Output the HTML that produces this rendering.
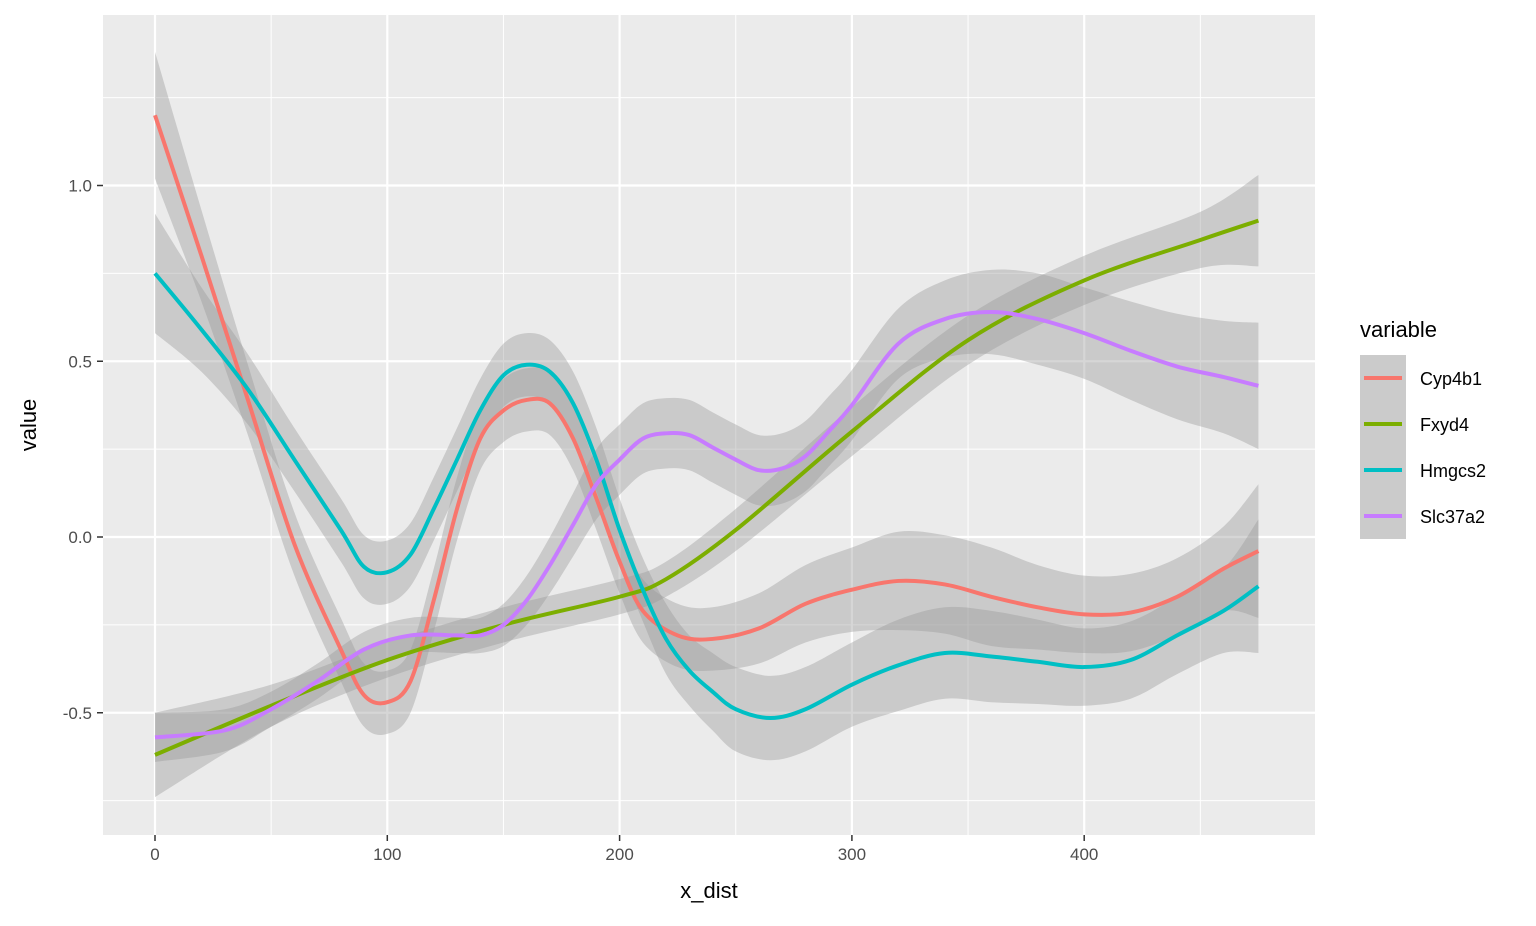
<!DOCTYPE html>
<html><head><meta charset="utf-8"><style>
body{margin:0;background:#fff;}
svg{font-family:"Liberation Sans",sans-serif;}
</style></head><body>
<svg id="c" width="1536" height="921"></svg>
<script>
const seriesNames=["Cyp4b1","Fxyd4","Hmgcs2","Slc37a2"];
const seriesColors=["#F8766D","#7CAE00","#00BFC4","#C77CFF"];
const cypX=[0,20,40,60,80,90,100,110,120,130,140,150,160,170,180,190,200,210,225,240,260,280,300,320,340,360,380,400,420,440,460,475];
const cypY=[1.20,0.80,0.39,-0.02,-0.32,-0.45,-0.47,-0.41,-0.18,0.08,0.28,0.36,0.39,0.38,0.28,0.11,-0.07,-0.21,-0.28,-0.29,-0.26,-0.19,-0.15,-0.125,-0.135,-0.17,-0.20,-0.22,-0.215,-0.17,-0.09,-0.04];
const cypSe=[0.18,0.13,0.1,0.09,0.09,0.09,0.09,0.09,0.09,0.09,0.09,0.09,0.09,0.09,0.09,0.09,0.09,0.09,0.09,0.09,0.1,0.11,0.12,0.14,0.14,0.14,0.12,0.11,0.11,0.11,0.12,0.19];
const fxX=[0,50,100,150,200,220,250,300,350,400,450,475];
const fxY=[-0.62,-0.48,-0.35,-0.25,-0.17,-0.12,0.02,0.30,0.56,0.73,0.845,0.90];
const fxSe=[0.12,0.06,0.05,0.05,0.05,0.05,0.06,0.07,0.07,0.07,0.08,0.13];
const hmX=[0,20,40,60,80,90,100,110,120,130,140,150,160,170,180,190,200,210,220,230,240,250,265,280,300,320,340,360,380,400,420,440,460,475];
const hmY=[0.75,0.59,0.42,0.22,0.02,-0.085,-0.1,-0.05,0.08,0.22,0.36,0.46,0.49,0.47,0.38,0.22,0.02,-0.15,-0.29,-0.38,-0.44,-0.49,-0.515,-0.49,-0.42,-0.365,-0.33,-0.34,-0.355,-0.37,-0.35,-0.28,-0.21,-0.14];
const hmSe=[0.17,0.12,0.1,0.09,0.09,0.09,0.09,0.09,0.09,0.09,0.09,0.09,0.09,0.09,0.09,0.09,0.09,0.09,0.1,0.1,0.11,0.12,0.12,0.12,0.12,0.13,0.13,0.13,0.12,0.11,0.11,0.11,0.12,0.19];
const slX=[0,30,50,70,90,110,130,140,150,160,170,180,190,200,210,220,230,240,250,260,270,280,290,300,320,340,360,380,400,420,440,460,475];
const slY=[-0.57,-0.55,-0.49,-0.41,-0.32,-0.28,-0.28,-0.28,-0.25,-0.18,-0.08,0.035,0.15,0.22,0.28,0.295,0.29,0.255,0.22,0.19,0.195,0.23,0.30,0.375,0.55,0.62,0.64,0.62,0.58,0.53,0.485,0.455,0.43];
const slSe=[0.07,0.06,0.05,0.05,0.05,0.05,0.05,0.05,0.06,0.07,0.08,0.09,0.1,0.1,0.1,0.1,0.1,0.1,0.1,0.1,0.1,0.1,0.1,0.1,0.1,0.11,0.12,0.13,0.13,0.14,0.15,0.16,0.18];
const xTicks=[0,100,200,300,400];
const yTicks=[-0.5,0,0.5,1.0];
const yTickLabels=["-0.5","0.0","0.5","1.0"];
const xMinor=[50,150,250,350,450];
const yMinor=[-0.75,-0.25,0.25,0.75,1.25];

const NS="http://www.w3.org/2000/svg";
const svg=document.getElementById('c');
const P={l:103,r:1315,t:15,b:835};
const sx=v=>155+v*2.323;
const sy=v=>537-v*351.5;
function mk(t,a,parent){const e=document.createElementNS(NS,t);for(const k in a)e.setAttribute(k,a[k]);(parent||svg).appendChild(e);return e;}
function path(pts){let d="M"+pts[0][0]+","+pts[0][1];for(let i=0;i<pts.length-1;i++){const p0=pts[Math.max(0,i-1)],p1=pts[i],p2=pts[i+1],p3=pts[Math.min(pts.length-1,i+2)];
d+=" C"+(p1[0]+(p2[0]-p0[0])/6)+","+(p1[1]+(p2[1]-p0[1])/6)+" "+(p2[0]-(p3[0]-p1[0])/6)+","+(p2[1]-(p3[1]-p1[1])/6)+" "+p2[0]+","+p2[1];}return d;}
const bg=mk('rect',{x:P.l,y:P.t,width:P.r-P.l,height:P.b-P.t,fill:'#EBEBEB'});

xMinor.forEach(v=>{const l=mk('line',{x1:sx(v),x2:sx(v),y1:P.t,y2:P.b,stroke:'#fff','stroke-width':1});});
yMinor.forEach(v=>{const l=mk('line',{x1:P.l,x2:P.r,y1:sy(v),y2:sy(v),stroke:'#fff','stroke-width':1});});
xTicks.forEach(v=>{const l=mk('line',{x1:sx(v),x2:sx(v),y1:P.t,y2:P.b,stroke:'#fff','stroke-width':2.2});
const t=mk('line',{x1:sx(v),x2:sx(v),y1:P.b,y2:P.b+6,stroke:'#333','stroke-width':1.5});
const tx=mk('text',{x:sx(v),y:P.b+25,'text-anchor':'middle','font-size':17,fill:'#4D4D4D'});tx.textContent=v;});
yTicks.forEach((v,i)=>{const l=mk('line',{x1:P.l,x2:P.r,y1:sy(v),y2:sy(v),stroke:'#fff','stroke-width':2.2});
const t=mk('line',{x1:P.l-6,x2:P.l,y1:sy(v),y2:sy(v),stroke:'#333','stroke-width':1.5});
const tx=mk('text',{x:P.l-11,y:sy(v)+6,'text-anchor':'end','font-size':17,fill:'#4D4D4D'});tx.textContent=yTickLabels[i];});
const S=[[cypX,cypY,cypSe],[fxX,fxY,fxSe],[hmX,hmY,hmSe],[slX,slY,slSe]];
S.forEach((s,k)=>{const up=s[0].map((x,i)=>[sx(x),sy(s[1][i]+s[2][i])]);const lo=s[0].map((x,i)=>[sx(x),sy(s[1][i]-s[2][i])]).reverse();
let d=path(up)+" L"+lo[0][0]+","+lo[0][1]+path(lo).slice(path(lo).indexOf(' '))+" Z";
const b=mk('path',{d:d,fill:'#999','fill-opacity':0.4,stroke:'none'});});
S.forEach((s,k)=>{const pts=s[0].map((x,i)=>[sx(x),sy(s[1][i])]);
const l=mk('path',{d:path(pts),fill:'none',stroke:seriesColors[k],'stroke-width':4});});
const xt=mk('text',{x:(P.l+P.r)/2,y:898,'text-anchor':'middle','font-size':22,fill:'#000'});xt.textContent='x_dist';
const yt=mk('text',{x:0,y:0,'text-anchor':'middle','font-size':22,fill:'#000',transform:'translate(36,425) rotate(-90)'});yt.textContent='value';
const lg=mk('g',{});
const lt=mk('text',{x:1360,y:337,'font-size':22,fill:'#000'},lg);lt.textContent='variable';
seriesNames.forEach((n,k)=>{const y0=355+k*46;const g=mk('g',{},lg);
mk('rect',{x:1360,y:y0,width:46,height:46,fill:'#CBCBCB'},g);
mk('line',{x1:1364,x2:1402,y1:y0+23,y2:y0+23,stroke:seriesColors[k],'stroke-width':4},g);
const t=mk('text',{x:1420,y:y0+30,'font-size':18,fill:'#000'},g);t.textContent=n;});
</script>
</body></html>
